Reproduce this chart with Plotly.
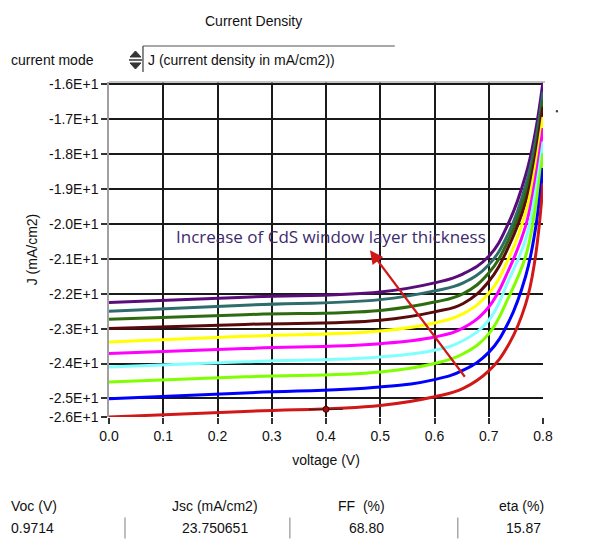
import plotly.graph_objects as go

# ---------------- data ----------------
voltage = [0.0, 0.25, 0.5, 0.6, 0.653, 0.7, 0.737, 0.768, 0.785, 0.8]

curve_names = ["c1", "c2", "c3", "c4", "c5", "c6", "c7", "c8", "c9", "c10"]
curve_colors = ["#5A0D7A", "#2F6C6C", "#2E6A10", "#5A0A0A", "#FFFF00",
                "#FF00FF", "#80FFFF", "#80FF00", "#0000FF", "#D01818"]
J_purple  = [-22.25, -22.10, -21.95, -21.69, -21.43, -20.93, -19.96, -18.61, -17.45, -15.93]
J_teal    = [-22.50, -22.33, -22.17, -21.92, -21.69, -21.17, -20.25, -18.90, -17.74, -16.22]
J_dkgreen = [-22.73, -22.60, -22.48, -22.24, -22.00, -21.41, -20.44, -19.14, -17.98, -16.46]
J_maroon  = [-23.00, -22.88, -22.76, -22.52, -22.28, -21.65, -20.64, -19.38, -18.17, -16.65]
J_yellow  = [-23.38, -23.22, -23.07, -22.84, -22.57, -21.99, -20.98, -19.67, -18.46, -16.94]
J_magenta = [-23.71, -23.57, -23.43, -23.24, -22.98, -22.38, -21.31, -20.06, -18.80, -17.26]
J_cyan    = [-24.10, -23.95, -23.81, -23.62, -23.34, -22.76, -21.60, -20.44, -19.19, -17.65]
J_lime    = [-24.53, -24.38, -24.24, -24.00, -23.72, -23.15, -22.09, -20.93, -19.62, -17.98]
J_blue    = [-25.01, -24.84, -24.67, -24.46, -24.19, -23.68, -22.80, -21.50, -20.25, -18.40]
J_red     = [-25.53, -25.37, -25.20, -24.95, -24.71, -24.21, -23.45, -22.30, -21.05, -18.84]
curves = [J_purple, J_teal, J_dkgreen, J_maroon, J_yellow,
          J_magenta, J_cyan, J_lime, J_blue, J_red]

cursor_v = [0.4]
cursor_j = [-25.31]

x_tickvals = [0.0, 0.1, 0.2, 0.3, 0.4, 0.5, 0.6, 0.7, 0.8]
x_ticktext = ["0.0", "0.1", "0.2", "0.3", "0.4", "0.5", "0.6", "0.7", "0.8"]
y_tickvals = [-16, -17, -18, -19, -20, -21, -22, -23, -24, -25, -25.53]
y_ticktext = ["-1.6E+1", "-1.7E+1", "-1.8E+1", "-1.9E+1", "-2.0E+1", "-2.1E+1",
              "-2.2E+1", "-2.3E+1", "-2.4E+1", "-2.5E+1", "-2.6E+1"]

table_headers = ["Voc (V)", "Jsc (mA/cm2)", "FF  (%)", "eta (%)"]
table_values = ["0.9714", "23.750651", "68.80", "15.87"]

# ---------------- layout geometry (target screen pixels) ----------------
OFF = 8                      # page body margin added by the browser
W, H = 593 - OFF, 539 - OFF
L, R, T, B = 109, 543.3, 82, 416.7   # plot area in screen pixels
FONT = "Liberation Sans, Arial, sans-serif"


def px(xp):
    return (xp - L) / (R - L)


def py(yp):
    return (B - yp) / (B - T)


fig = go.Figure()
for name, col, js in zip(curve_names, curve_colors, curves):
    fig.add_trace(go.Scatter(x=voltage, y=js, mode="lines", name=name,
                             line=dict(color=col, width=3, shape="spline", smoothing=1.2),
                             cliponaxis=False, showlegend=False, hoverinfo="skip"))

fig.add_trace(go.Scatter(x=cursor_v, y=cursor_j, mode="markers",
                         marker=dict(symbol="line-ew", size=24, line=dict(color="#222", width=1)),
                         showlegend=False, hoverinfo="skip"))
fig.add_trace(go.Scatter(x=cursor_v, y=cursor_j, mode="markers",
                         marker=dict(symbol="circle", size=6, color="#A01010",
                                     line=dict(color="#400", width=1)),
                         showlegend=False, hoverinfo="skip"))


def label(xp, yp, text, anchor="center", size=14, color="#111", family=FONT):
    return dict(x=px(xp), y=py(yp), xref="paper", yref="paper", showarrow=False,
                xanchor=anchor, yanchor="middle", text=text,
                font=dict(family=family, size=size, color=color))


annotations = []
# arrow
annotations.append(dict(x=0.481, y=-20.76, ax=0.658, ay=-24.42, xref="x", yref="y",
                        axref="x", ayref="y", text="", showarrow=True, arrowhead=2,
                        arrowsize=1.2, arrowwidth=2.2, arrowcolor="#D01818"))
annotations.append(label(331, 236, "Increase of CdS window layer thickness",
                         size=17, color="#3D2A6E", family="Open Sans, sans-serif"))
# top texts
annotations.append(label(254, 21, "Current Density"))
annotations.append(label(9, 60, "current mode", anchor="left"))
annotations.append(label(146, 60, "J (current density in mA/cm2))", anchor="left"))
# bottom table
hdr_x = [9, 215, 362, 522]
hdr_anchor = ["left", "center", "center", "center"]
val_x = [9, 215, 367, 524]
for hx, ha, ht, vx, vt in zip(hdr_x, hdr_anchor, table_headers, val_x, table_values):
    annotations.append(label(hx, 506, ht, anchor=ha))
    annotations.append(label(vx, 528, vt, anchor=ha))

shapes = []


def pline(x0, y0, x1, y1, color, width):
    return dict(type="line", xref="paper", yref="paper", x0=px(x0), x1=px(x1),
                y0=py(y0), y1=py(y1), line=dict(color=color, width=width))


# top frame line
shapes.append(pline(L, 82, R + 2, 82, "#B0B0B0", 1.5))
# dropdown box
shapes.append(pline(143, 46, 395, 46, "#A8A8A8", 2))
shapes.append(pline(143, 46, 143, 72, "#606060", 1.5))
# spinner
shapes.append(dict(type="path", xref="paper", yref="paper",
                   path=f"M {px(130)},{py(57)} L {px(135.5)},{py(51)} L {px(141)},{py(57)} Z",
                   fillcolor="#333", line=dict(color="#333", width=1)))
shapes.append(dict(type="path", xref="paper", yref="paper",
                   path=f"M {px(130)},{py(63)} L {px(141)},{py(63)} L {px(135.5)},{py(69)} Z",
                   fillcolor="#333", line=dict(color="#333", width=1)))
shapes.append(pline(129, 60, 142, 60, "#333", 1.5))
# small stray dot right of the plot
shapes.append(dict(type="circle", xref="paper", yref="paper", x0=px(556), x1=px(558.5),
                   y0=py(110), y1=py(112.5), fillcolor="#444", line=dict(width=0)))
# table separators
for sx in [125, 290, 458]:
    shapes.append(pline(sx, 517, sx, 538, "#A8A8A8", 1.5))

fig.update_layout(
    width=W, height=H,
    margin=dict(l=L - OFF, r=W - (R - OFF), t=T - OFF, b=H - (B - OFF), autoexpand=False),
    paper_bgcolor="white", plot_bgcolor="white",
    font=dict(family=FONT, size=14, color="#111"),
    annotations=annotations, shapes=shapes,
    xaxis=dict(range=[0, 0.8], tickvals=x_tickvals, ticktext=x_ticktext,
               showgrid=True, gridcolor="#1A1A1A", gridwidth=2, automargin=False,
               ticks="outside", ticklen=6, tickwidth=2, tickcolor="#333",
               showline=False, zeroline=False,
               title=dict(text="voltage (V)", standoff=12, font=dict(size=14)),
               tickfont=dict(size=14)),
    yaxis=dict(range=[-25.53, -15.94], tickvals=y_tickvals, ticktext=y_ticktext,
               showgrid=True, gridcolor="#1A1A1A", gridwidth=2, automargin=False,
               ticks="outside", ticklen=6, tickwidth=2, tickcolor="#333",
               showline=True, linecolor="#A0A0A0", linewidth=1.5, zeroline=False,
               title=dict(text="J (mA/cm2)", standoff=8, font=dict(size=14)),
               tickfont=dict(size=14)),
)

fig.write_html("out.html")
